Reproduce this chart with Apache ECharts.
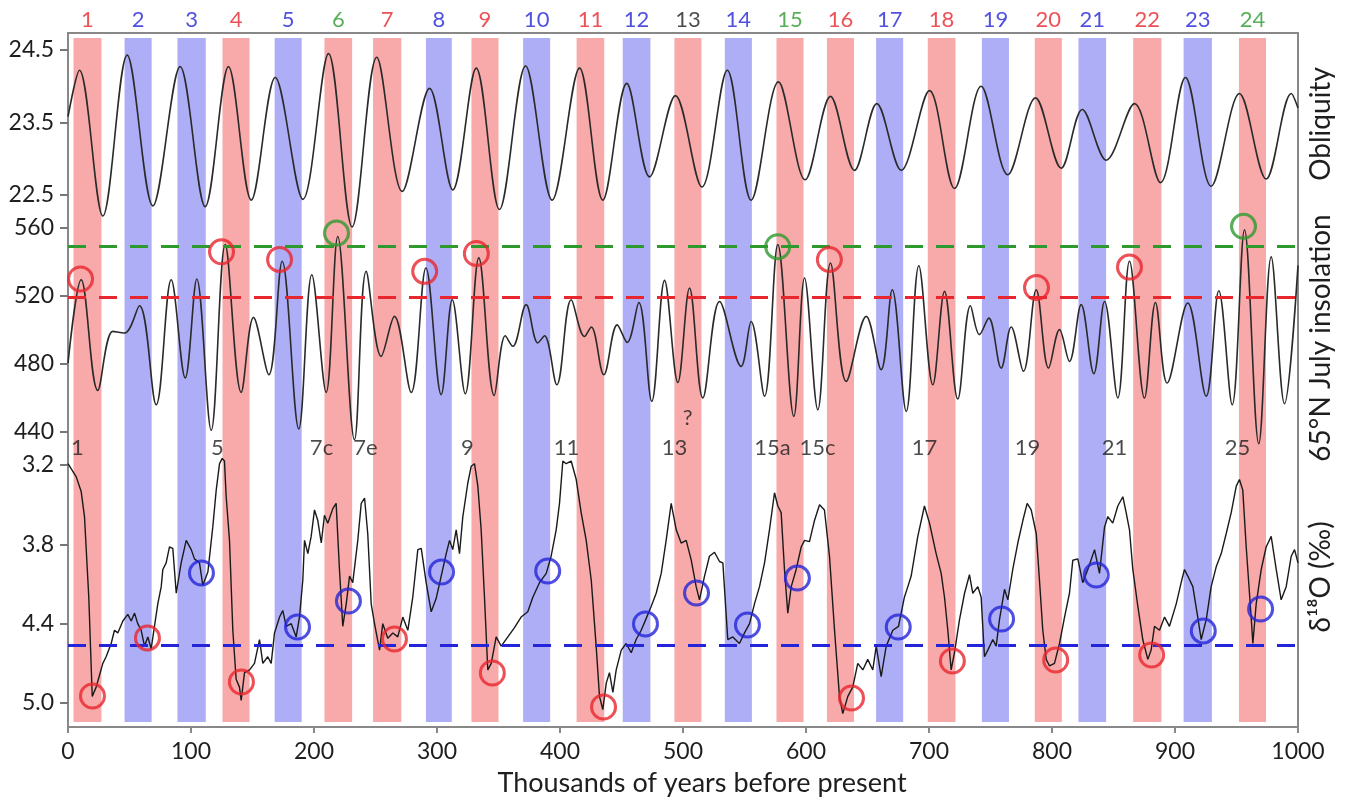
<!DOCTYPE html>
<html><head><meta charset="utf-8">
<script src="https://cdn.jsdelivr.net/npm/echarts@6/dist/echarts.min.js"></script>
<style>html,body{margin:0;padding:0;background:#fff}#c{width:1354px;height:802px}</style>
</head><body><div id="c"></div>
<script>
// ---------- DATA ----------
const obliquity = [[0,23.58],[9.3,24.22],[28.3,22.21],[48.1,24.43],[69,22.35],[91.2,24.27],[111.5,22.34],[130.5,24.27],[149,22.43],[168.5,24.12],[191,22.44],[211.8,24.45],[231,22.06],[251,24.40],[271.7,22.55],[294,23.97],[312.8,22.57],[331.9,24.25],[350.8,22.30],[372,24.28],[393.6,22.43],[415.9,24.25],[434.8,22.43],[454.3,24.04],[472.8,22.75],[493.9,23.87],[515.3,22.61],[536,24.22],[555.4,22.43],[577.6,24.06],[599.3,22.71],[619.9,23.86],[639.4,22.84],[657.6,23.76],[677.4,22.84],[700.4,23.94],[720.7,22.59],[742.4,24.0],[764,22.78],[786.6,23.84],[807.5,22.87],[824.6,23.68],[844.1,22.98],[867.1,23.76],[888.2,22.67],[908.5,24.12],[929.4,22.62],[952.4,23.90],[974.1,22.72],[994.5,23.90],[1000,23.70]];

const insolation = [[0,480.6],[10.7,529.6],[24.2,464.5],[36.4,499.2],[46,498.2],[58.1,514.3],[71.7,456],[83.9,529.6],[95.3,471.8],[104.7,530],[116.4,441],[127.8,550.2],[140.8,463.3],[150.8,507.4],[163.3,473.7],[174.1,540.4],[187.6,441.8],[198.2,532.5],[209.9,463.3],[219.3,555],[232.9,435.5],[242.4,534.5],[254.6,484.5],[265.4,508],[279,463.3],[291,536.5],[303.4,462],[312.4,517.8],[323,462.5],[334,542.4],[346.5,461.5],[355.5,496.6],[361.6,490.4],[372.5,514.9],[382,492.4],[387.4,496.6],[397.4,467.8],[409.1,517.8],[419.9,496.2],[425.4,501.8],[435.6,473.7],[446.5,503],[454.6,492.7],[464.1,516.2],[474.6,458],[485,529.2],[495.8,469.2],[505.3,524.7],[516.1,460],[529.7,516.8],[547.3,478.6],[555.4,505],[566.3,461],[577.1,550.2],[590.1,449.2],[598.8,530.6],[609.6,453.1],[619.9,539.4],[632.7,469.8],[649,508],[661.1,476.7],[670.1,523.7],[681.5,452.1],[691.7,537.8],[703.1,467.8],[712.6,522.7],[723.4,459.4],[733.7,514.3],[741,497.3],[748.6,507],[758.7,477.6],[766.8,501.8],[776.8,475.7],[787.2,523.7],[797.2,477.6],[806.1,500.2],[814.2,481.5],[823.7,514.9],[834,474.3],[842.7,516.8],[853.5,460],[863,540.4],[875.2,460],[884.1,516.2],[893.6,468.8],[910.4,515.9],[925.4,461],[935.6,523.1],[946.5,456],[956.5,559],[968.1,433.1],[978.2,543],[989,456.6],[1000,538]];

const d18O = [[0,3.19],[6.7,3.29],[10.7,3.40],[13.4,3.59],[16.9,4.2],[19.7,4.95],[22.9,4.88],[25.6,4.79],[28.3,4.70],[31,4.65],[35.1,4.55],[37.8,4.45],[40.5,4.47],[44.6,4.38],[48.6,4.33],[51.4,4.38],[54.1,4.32],[56.7,4.40],[59.5,4.45],[62.2,4.57],[64.9,4.50],[67.6,4.59],[70.3,4.42],[73,4.25],[75.8,4.12],[77.1,3.99],[79.8,3.94],[82.5,3.82],[85.2,3.83],[88,4.17],[92,3.94],[96.1,3.77],[100.2,3.84],[102.8,3.91],[106.9,3.94],[109.6,4.11],[113.7,4.01],[117.7,3.67],[120.5,3.39],[123.2,3.19],[125.4,3.15],[127.2,3.17],[128.6,3.44],[131.3,3.77],[134,4.45],[136.7,4.82],[139.4,4.88],[140.8,4.98],[143.5,4.77],[147.6,4.75],[151.6,4.70],[155.7,4.52],[158.4,4.70],[162.4,4.65],[165.2,4.70],[167.9,4.47],[172,4.35],[174.6,4.30],[177.4,4.42],[181.5,4.40],[185.5,4.50],[188.2,4.35],[190.9,4.07],[192.3,3.77],[195,3.87],[197.7,3.74],[200.4,3.54],[203.1,3.62],[205.9,3.79],[208.5,3.58],[211.2,3.64],[215.3,3.53],[218,3.49],[220.7,3.99],[223.4,4.42],[226.2,4.25],[228.9,4.04],[231.5,4.09],[235.6,3.77],[238.4,3.49],[241.1,3.45],[243.7,3.72],[246.5,4.25],[249.2,4.40],[253.3,4.60],[255.9,4.40],[260,4.51],[264.1,4.47],[268.1,4.50],[272.2,4.35],[276.3,4.45],[280.3,4.20],[284.4,3.84],[287.2,3.83],[291.2,4.09],[295.3,4.31],[299.3,4.21],[303.4,4.04],[307.5,3.87],[310.2,3.77],[312.8,3.84],[315.6,3.69],[318.3,3.87],[321,3.59],[325,3.34],[327.8,3.21],[330.5,3.19],[333.2,3.36],[335.9,3.69],[338.6,4.20],[341.3,4.75],[344.1,4.70],[348.1,4.50],[352.2,4.57],[357.6,4.50],[363,4.43],[368.4,4.35],[373.8,4.31],[377.9,4.20],[383.3,4.09],[388.8,4.02],[392.8,3.89],[396.9,3.69],[399.6,3.49],[402.3,3.17],[405,3.19],[409.1,3.17],[413.2,3.31],[417.2,3.56],[421.3,3.77],[425.4,4.07],[429.4,4.57],[432.1,4.95],[434.8,5.05],[437.6,4.85],[440.2,4.77],[443,4.92],[445.7,4.75],[449.8,4.60],[453.8,4.55],[457.9,4.62],[461.9,4.52],[466,4.45],[470.1,4.36],[474.1,4.27],[478.2,4.17],[482.3,4.02],[486.3,3.77],[490.4,3.49],[494.5,3.69],[498.5,3.79],[502.6,3.77],[506.7,3.92],[510.7,4.12],[513.4,4.22],[517.5,4.04],[521.5,3.89],[525.6,3.86],[529.7,3.93],[532.4,3.94],[536.4,4.52],[540.5,4.50],[545.9,4.55],[550,4.47],[554.1,4.40],[558.1,4.25],[562.2,4.12],[566.3,3.94],[570.3,3.69],[574.4,3.41],[577.1,3.51],[579.8,3.56],[582.5,3.99],[585.2,4.32],[588,4.12],[592,3.99],[596.1,3.82],[598.8,3.77],[602.8,3.78],[606.9,3.62],[611,3.50],[615,3.54],[619.1,3.89],[623.2,4.45],[627.2,4.95],[629.9,5.08],[634,4.95],[638,4.88],[642.1,4.70],[646.2,4.75],[650.2,4.67],[654.3,4.75],[657.1,4.57],[661.1,4.80],[665.2,4.57],[670.6,4.45],[675.2,4.42],[680,4.20],[682.8,4.12],[685.5,4.04],[688.2,3.89],[690.9,3.74],[696.3,3.51],[700.4,3.64],[705.8,3.87],[709.9,4.02],[712.6,4.20],[715.3,4.45],[718,4.75],[720.7,4.62],[724.8,4.37],[728.9,4.17],[732.9,4.03],[735.6,4.17],[739.7,4.12],[742.4,4.20],[745.1,4.65],[747.8,4.60],[751.9,4.52],[754.6,4.57],[757.3,4.37],[761.4,4.14],[764.1,4.22],[768.1,3.99],[772.2,3.79],[776.3,3.62],[779.8,3.49],[783.1,3.54],[787.2,3.72],[789.8,4.07],[792.5,4.45],[795.3,4.67],[798,4.72],[802,4.70],[806.1,4.55],[810.2,4.35],[814.2,4.17],[816.9,3.92],[821,3.91],[825,4.09],[829.1,3.99],[834.6,3.84],[838.6,4.02],[842.7,3.67],[845.4,3.59],[849.4,3.64],[853.5,3.51],[857.6,3.44],[860.3,3.56],[863,3.69],[865.7,3.99],[869.8,4.27],[873.8,4.52],[877.9,4.67],[880.6,4.60],[883.3,4.42],[887.4,4.45],[891.5,4.35],[895.5,4.42],[901,4.25],[905,4.09],[907.7,3.99],[910.4,4.04],[914.5,4.12],[918.5,4.35],[921.3,4.52],[925.4,4.37],[929.4,4.12],[933.5,3.97],[937.6,3.87],[941.6,3.72],[945.7,3.56],[949.8,3.36],[952.4,3.31],[955.1,3.39],[957.9,3.82],[961.9,4.35],[963.3,4.55],[966,4.25],[970.1,3.99],[974.1,3.82],[978.2,3.74],[982.3,3.99],[986.3,4.22],[990.4,4.12],[994.5,3.89],[997.2,3.84],[1000,3.94]];

const bandNames = ['1','2','3','4','5','6','7','8','9','10','11','12','13','14','15','16','17','18','19','20','21','22','23','24'];
const bandStart = [4.5,46,89,125.6,168,208.5,248,291,328,370,413.5,451,493,534,576,617,657,699,743,786,821.5,866,907,952];
const bandEnd   = [27.2,68,112,147.6,190,231,271,312,350,392,436,473.5,515,556,598,639,679,721.5,765,808,844,889,930,974];
const bandKind  = ['r','b','b','r','b','r','r','b','r','b','r','b','r','b','r','r','b','r','b','r','b','r','b','r'];
const bandLabelKind = ['r','b','b','r','b','g','r','b','r','b','r','b','k','b','g','r','b','r','b','r','b','r','b','g'];

const misNames = ['1','5','7c','7e','9','11','13','15a','15c','17','19','21','25'];
const misKyr   = [7.7,121.5,206.1,241.9,324.8,405.3,493.1,572.8,609.3,696.3,780.1,850.8,950.8];
const questionKyr = 503.7;

const insolRedCircles   = [[10.2,530],[124.8,546],[172,541.5],[290,534.5],[332,545],[619,541.5],[787.4,525],[863,537]];
const insolGreenCircles = [[218.3,557],[577,549],[955.7,561]];
const d18RedCircles  = [[19.9,4.947],[64.6,4.508],[141,4.841],[265.4,4.516],[345,4.773],[435.4,5.03],[637,4.962],[719,4.682],[803,4.675],[881,4.637]];
const d18BlueCircles = [[108.5,4.017],[186.6,4.425],[228,4.229],[303.7,4.009],[390,4.002],[469.5,4.402],[511,4.168],[552.4,4.41],[593,4.055],[675,4.425],[759,4.365],[836,4.032],[923,4.455],[969.6,4.289]];

const insolGreenLevel = 549;
const insolRedLevel = 519;
const d18BlueLevel = 4.56;

// ---------- STYLE ----------
const FONT = 'Lato, "Open Sans", sans-serif';
const COL = { r:'#e8262e', b:'#2424d8', g:'#2e9a2e', k:'#1e1e1e' };
const BAND = { r:'#f8a9a9', b:'#aeaef6' };
const TXT = '#1e1e1e';
const L = 68, W = 1230, TOP = 33, H = 694;

const chart = echarts.init(document.getElementById('c'));

const hiddenX = (i) => ({ type:'value', gridIndex:i, min:0, max:1000, show:false });
const leftY = (i, min, max, interval, decimals, inverse) => ({
  type:'value', gridIndex:i, min, max, interval, inverse: !!inverse,
  axisLine:{show:false}, splitLine:{show:false},
  axisTick:{show:true, length:8, lineStyle:{color:'#777', width:2}},
  axisLabel:{fontFamily:FONT, fontSize:23, color:TXT, margin:14,
    formatter: v => v.toFixed(decimals)}
});

const bandAreas = bandStart.map((s,i) => [
  {xAxis:s, yAxis:5, itemStyle:{color:BAND[bandKind[i]]}},
  {xAxis:bandEnd[i], yAxis:689}
]);
const topLabels = bandNames.map((n,i) => ({
  value:[(bandStart[i]+bandEnd[i])/2, 707], name:n,
  label:{color:COL[bandLabelKind[i]]}
}));
const misLabels = misNames.map((n,i) => ({ value:[misKyr[i], 279], name:n }));

const circle = (data, color, xi, yi) => ({
  type:'scatter', xAxisIndex:xi, yAxisIndex:yi, data, clip:false, z:6, silent:true,
  symbol:'circle', symbolSize:24,
  itemStyle:{color:'rgba(0,0,0,0)', borderColor:color, borderWidth:3}
});

chart.setOption({
  animation:false,
  backgroundColor:'#fff',
  grid:[
    {left:L, width:W, top:TOP, height:H, show:true, borderColor:'#888', borderWidth:2, backgroundColor:'transparent'},
    {left:L, width:W, top:50, height:145},
    {left:L, width:W, top:228, height:204},
    {left:L, width:W, top:465, height:238}
  ],
  xAxis:[
    { type:'value', gridIndex:0, min:0, max:1000, interval:100,
      axisLine:{show:true, lineStyle:{color:'#888', width:2}},
      axisTick:{show:true, length:6, lineStyle:{color:'#888', width:2}},
      splitLine:{show:false},
      axisLabel:{fontFamily:FONT, fontSize:23, color:TXT, margin:13, formatter: v => String(v)} },
    hiddenX(1), hiddenX(2), hiddenX(3)
  ],
  yAxis:[
    { type:'value', gridIndex:0, min:0, max:694, show:false },
    leftY(1, 22.5, 24.5, 1, 1),
    leftY(2, 440, 560, 40, 0),
    leftY(3, 3.2, 5.0, 0.6, 1, true)
  ],
  series:[
    { type:'line', xAxisIndex:0, yAxisIndex:0, data:[[0,-50]], symbol:'none', silent:true, z:1,
      lineStyle:{width:0, opacity:0},
      markArea:{silent:true, data:bandAreas} },
    { type:'scatter', xAxisIndex:0, yAxisIndex:0, data:topLabels, clip:false, silent:true, z:7,
      symbolSize:1, itemStyle:{color:'rgba(0,0,0,0)'},
      label:{show:true, position:'inside', formatter:p=>p.name, fontFamily:FONT, fontSize:22} },
    { type:'scatter', xAxisIndex:0, yAxisIndex:0, data:misLabels, clip:false, silent:true, z:7,
      symbolSize:1, itemStyle:{color:'rgba(0,0,0,0)'},
      label:{show:true, position:'inside', formatter:p=>p.name, fontFamily:FONT, fontSize:22, color:TXT} },
    { type:'scatter', xAxisIndex:0, yAxisIndex:0, data:[{value:[questionKyr, 309], name:'?'}], clip:false, silent:true, z:7,
      symbolSize:1, itemStyle:{color:'rgba(0,0,0,0)'},
      label:{show:true, position:'inside', formatter:p=>p.name, fontFamily:FONT, fontSize:22, color:TXT} },
    { type:'line', xAxisIndex:1, yAxisIndex:1, data:obliquity, smooth:0.34, symbol:'none', clip:false, z:4,
      lineStyle:{color:'#2a2a2a', width:1.6} },
    { type:'line', xAxisIndex:2, yAxisIndex:2, data:insolation, smooth:0.36, symbol:'none', clip:false, z:4,
      lineStyle:{color:'#2a2a2a', width:1.6},
      markLine:{silent:true, symbol:['none','none'], label:{show:false},
        data:[
          {yAxis:insolGreenLevel, lineStyle:{color:COL.g, type:[18,13], width:3}},
          {yAxis:insolRedLevel, lineStyle:{color:COL.r, type:[18,13], width:3}}
        ]} },
    { type:'line', xAxisIndex:3, yAxisIndex:3, data:d18O, symbol:'none', clip:false, z:4,
      lineStyle:{color:'#1a1a1a', width:1.4},
      markLine:{silent:true, symbol:['none','none'], label:{show:false},
        data:[ {yAxis:d18BlueLevel, lineStyle:{color:COL.b, type:[18,13], width:3}} ]} },
    circle(insolRedCircles, COL.r, 2, 2),
    circle(insolGreenCircles, COL.g, 2, 2),
    circle(d18RedCircles, COL.r, 3, 3),
    circle(d18BlueCircles, COL.b, 3, 3)
  ],
  graphic:[
    { type:'text', x:702, y:783,
      style:{text:'Thousands of years before present', font:'27px '+FONT, fill:TXT, textAlign:'center', textVerticalAlign:'middle', align:'center', verticalAlign:'middle'} },
    { type:'text', x:1321, y:124, rotation:Math.PI/2,
      style:{text:'Obliquity', font:'28px '+FONT, fill:TXT, textAlign:'center', textVerticalAlign:'middle', align:'center', verticalAlign:'middle'} },
    { type:'text', x:1321, y:338, rotation:Math.PI/2,
      style:{text:'65°N July insolation', font:'28px '+FONT, fill:TXT, textAlign:'center', textVerticalAlign:'middle', align:'center', verticalAlign:'middle'} },
    { type:'text', x:1321, y:577, rotation:Math.PI/2,
      style:{text:'δ¹⁸O (‰)', font:'28px '+FONT, fill:TXT, textAlign:'center', textVerticalAlign:'middle', align:'center', verticalAlign:'middle'} }
  ]
});
</script>
</body></html>
